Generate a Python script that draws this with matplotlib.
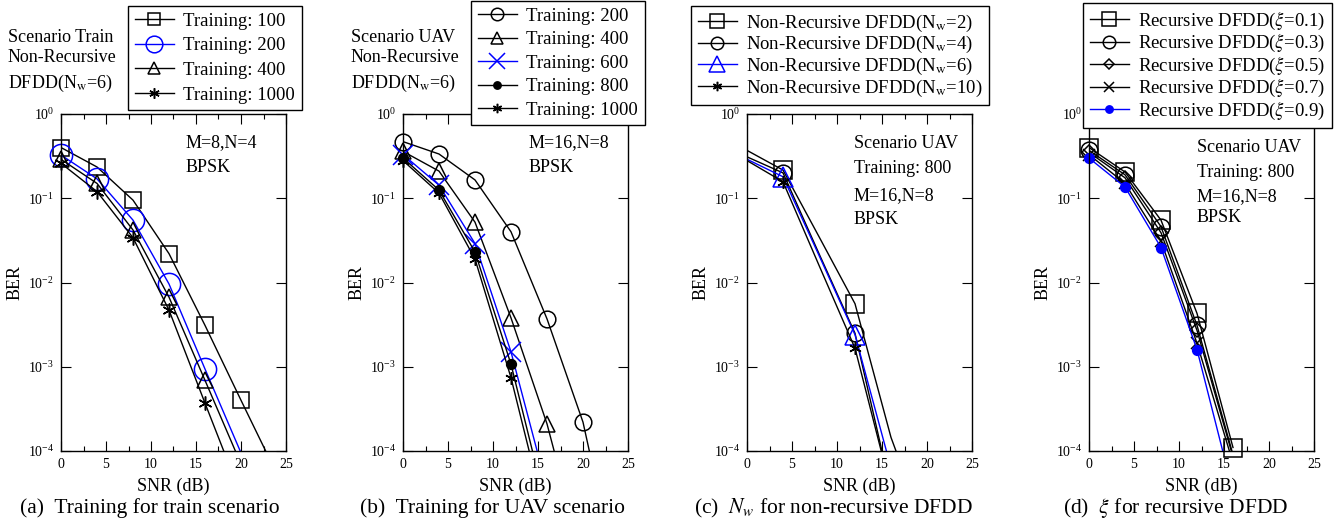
import numpy as np
import matplotlib
matplotlib.use("Agg")
import matplotlib.pyplot as plt
from matplotlib.lines import Line2D
from matplotlib.ticker import MultipleLocator, NullLocator, LogLocator

plt.rcParams['font.family'] = 'serif'
plt.rcParams['font.serif'] = ['Liberation Serif', 'DejaVu Serif']
plt.rcParams['mathtext.fontset'] = 'stix'

nan = np.nan

# (a) training length, train scenario
snr_a = [0, 4, 8, 12, 16, 20, 24]
ber_a_100 = [0.40, 0.235, 0.095, 0.022, 0.0031, 4.0e-4, 5.3e-5]
ber_a_200 = [0.326, 0.17, 0.055, 0.0096, 9.4e-4, 9.5e-5, nan]
ber_a_400 = [0.29, 0.15, 0.042, 0.0067, 6.9e-4, 7e-5, nan]
ber_a_1000 = [0.26, 0.12, 0.034, 0.0047, 3.7e-4, 3e-5, nan]

# (b) training length, UAV scenario
snr_b = [0, 4, 8, 12, 16, 20, 24]
ber_b_200 = [0.47, 0.335, 0.165, 0.04, 0.0037, 2.2e-4, 2.5e-6]
ber_b_400 = [0.36, 0.21, 0.052, 0.0038, 2.1e-4, 5e-6, nan]
ber_b_600 = [0.33, 0.143, 0.029, 0.0015, 3.6e-5, nan, nan]
ber_b_800 = [0.30, 0.125, 0.023, 0.00107, 2e-5, nan, nan]
ber_b_1000 = [0.28, 0.115, 0.019, 7.4e-4, 1.4e-5, nan, nan]

# (c) window length, non-recursive DFDD
snr_c = [0, 4, 8, 12, 16, 20]
ber_c_2 = [0.37, 0.216, 0.035, 0.0056, 1.45e-4, 1e-5]
ber_c_4 = [0.31, 0.20, 0.022, 0.0025, 3.4e-5, nan]
ber_c_6 = [0.29, 0.18, 0.021, 0.0024, 6.3e-5, nan]
ber_c_10 = [0.28, 0.157, 0.016, 0.00166, 3.5e-5, nan]
marks_c = [4, 12]

# (d) forgetting factor, recursive DFDD
snr_d = [0, 4, 8, 12, 16]
ber_d_01 = [0.40, 0.205, 0.055, 0.0043, 1.1e-4]
ber_d_03 = [0.37, 0.19, 0.046, 0.0031, 9e-5]
ber_d_05 = [0.35, 0.175, 0.039, 0.0027, 8.5e-5]
ber_d_07 = [0.33, 0.15, 0.031, 0.0019, 7.2e-5]
ber_d_09 = [0.30, 0.136, 0.026, 0.0016, 3.3e-5]

W, H = 1337, 525
fig = plt.figure(figsize=(W / 100, H / 100), dpi=100)


def px(x, y):
    return x / W, 1 - y / H


def draw(ax, x, y, color, marker, ms, label, mfc='none', marks=None):
    x = np.asarray(x, float)
    y = np.asarray(y, float)
    ok = ~np.isnan(y)
    ax.plot(x[ok], y[ok], color=color, lw=1.0)
    keep = ok & (y >= 1e-4)
    if marks is not None:
        keep &= np.isin(x, marks)
    ax.plot(x[keep], y[keep], ls='none', marker=marker, ms=ms, mfc=mfc,
            mec=color, mew=1.1, clip_on=False)
    return Line2D([], [], color=color, lw=1.0, marker=marker, ms=ms,
                  mfc=mfc, mec=color, mew=1.1, label=label)


def setup(ax):
    ax.set_yscale('log')
    ax.set_xlim(0, 25)
    ax.set_ylim(1e-4, 1)
    ax.xaxis.set_major_locator(MultipleLocator(5))
    ax.xaxis.set_minor_locator(MultipleLocator(2.5))
    ax.yaxis.set_major_locator(LogLocator(base=10, numticks=10))
    ax.yaxis.set_minor_locator(NullLocator())
    ax.tick_params(which='both', direction='in', top=True, right=True,
                   labelsize=10, width=0.8, pad=5)
    ax.tick_params(which='major', length=7)
    ax.tick_params(which='minor', length=3.5)
    for s in ax.spines.values():
        s.set_linewidth(1.0)
    ax.set_xlabel('SNR (dB)', fontsize=13, labelpad=5)
    ax.set_ylabel('BER', fontsize=13, labelpad=3)


def legend(ax, handles, x, y, spacing):
    lg = ax.legend(handles=handles, loc='upper left', bbox_to_anchor=px(x, y),
                   bbox_transform=fig.transFigure, borderaxespad=0,
                   fontsize=13.5, fancybox=False, framealpha=1, edgecolor='black',
                   handlelength=2.1, handletextpad=0.5, labelspacing=spacing,
                   borderpad=0.35, markerscale=0.75)
    lg.get_frame().set_linewidth(1.0)
    lg.set_zorder(10)


lefts = [61, 403, 747, 1089]
axes = []
for l in lefts:
    axes.append(fig.add_axes([l / W, (H - 451) / H, 225 / W, 337 / H]))

blue = '#0000ff'
star = (6, 2, 0)

# (a)
ax = axes[0]
setup(ax)
h = [draw(ax, snr_a, ber_a_100, 'k', 's', 12, 'Training: 100'),
     draw(ax, snr_a, ber_a_200, blue, 'o', 16, 'Training: 200'),
     draw(ax, snr_a, ber_a_400, 'k', '^', 12, 'Training: 400'),
     draw(ax, snr_a, ber_a_1000, 'k', star, 10, 'Training: 1000')]
legend(ax, h, 128, 6, 0.4)
for t, yy in [('Scenario Train', 37), ('Non-Recursive', 57),
              (r'DFDD(N$_\mathrm{w}$=6)', 83)]:
    fig.text(*px(8, yy), t, fontsize=13, va='center')
for t, yy in [('M=8,N=4', 143), ('BPSK', 167)]:
    fig.text(*px(186, yy), t, fontsize=13, va='center')

# (b)
ax = axes[1]
setup(ax)
h = [draw(ax, snr_b, ber_b_200, 'k', 'o', 12, 'Training: 200'),
     draw(ax, snr_b, ber_b_400, 'k', '^', 12, 'Training: 400'),
     draw(ax, snr_b, ber_b_600, blue, 'x', 15, 'Training: 600'),
     draw(ax, snr_b, ber_b_800, 'k', 'o', 7, 'Training: 800', mfc='k'),
     draw(ax, snr_b, ber_b_1000, 'k', star, 9, 'Training: 1000')]
legend(ax, h, 471, 1, 0.34)
for t, yy in [('Scenario UAV', 37), ('Non-Recursive', 57),
              (r'DFDD(N$_\mathrm{w}$=6)', 83)]:
    fig.text(*px(351, yy), t, fontsize=13, va='center')
for t, yy in [('M=16,N=8', 143), ('BPSK', 167)]:
    fig.text(*px(529, yy), t, fontsize=13, va='center')

# (c)
ax = axes[2]
setup(ax)
h = [draw(ax, snr_c, ber_c_2, 'k', 's', 13, r'Non-Recursive DFDD(N$_\mathrm{w}$=2)', marks=marks_c),
     draw(ax, snr_c, ber_c_4, 'k', 'o', 12, r'Non-Recursive DFDD(N$_\mathrm{w}$=4)', marks=marks_c),
     draw(ax, snr_c, ber_c_6, blue, '^', 15, r'Non-Recursive DFDD(N$_\mathrm{w}$=6)', marks=marks_c),
     draw(ax, snr_c, ber_c_10, 'k', star, 9, r'Non-Recursive DFDD(N$_\mathrm{w}$=10)', marks=marks_c)]
legend(ax, h, 691, 6, 0.03)
for t, yy in [('Scenario UAV', 143), ('Training: 800', 168),
              ('M=16,N=8', 196), ('BPSK', 219)]:
    fig.text(*px(854, yy), t, fontsize=13, va='center')

# (d)
ax = axes[3]
setup(ax)
h = [draw(ax, snr_d, ber_d_01, 'k', 's', 13, r'Recursive DFDD($\xi$=0.1)'),
     draw(ax, snr_d, ber_d_03, 'k', 'o', 12, r'Recursive DFDD($\xi$=0.3)'),
     draw(ax, snr_d, ber_d_05, 'k', 'D', 7, r'Recursive DFDD($\xi$=0.5)'),
     draw(ax, snr_d, ber_d_07, 'k', 'x', 9, r'Recursive DFDD($\xi$=0.7)'),
     draw(ax, snr_d, ber_d_09, blue, 'o', 7, r'Recursive DFDD($\xi$=0.9)', mfc=blue)]
legend(ax, h, 1083, 3, 0.02)
for t, yy in [('Scenario UAV', 147), ('Training: 800', 172),
              ('M=16,N=8', 197), ('BPSK', 218)]:
    fig.text(*px(1197, yy), t, fontsize=13, va='center')

captions = ['(a)  Training for train scenario', '(b)  Training for UAV scenario',
            r'(c)  $N_w$ for non-recursive DFDD', r'(d)  $\xi$ for recursive DFDD']
for cx, c in zip([150, 492, 834, 1176], captions):
    fig.text(*px(cx, 508), c, fontsize=15.5, ha='center', va='center')

fig.savefig('out.png', dpi=100)
